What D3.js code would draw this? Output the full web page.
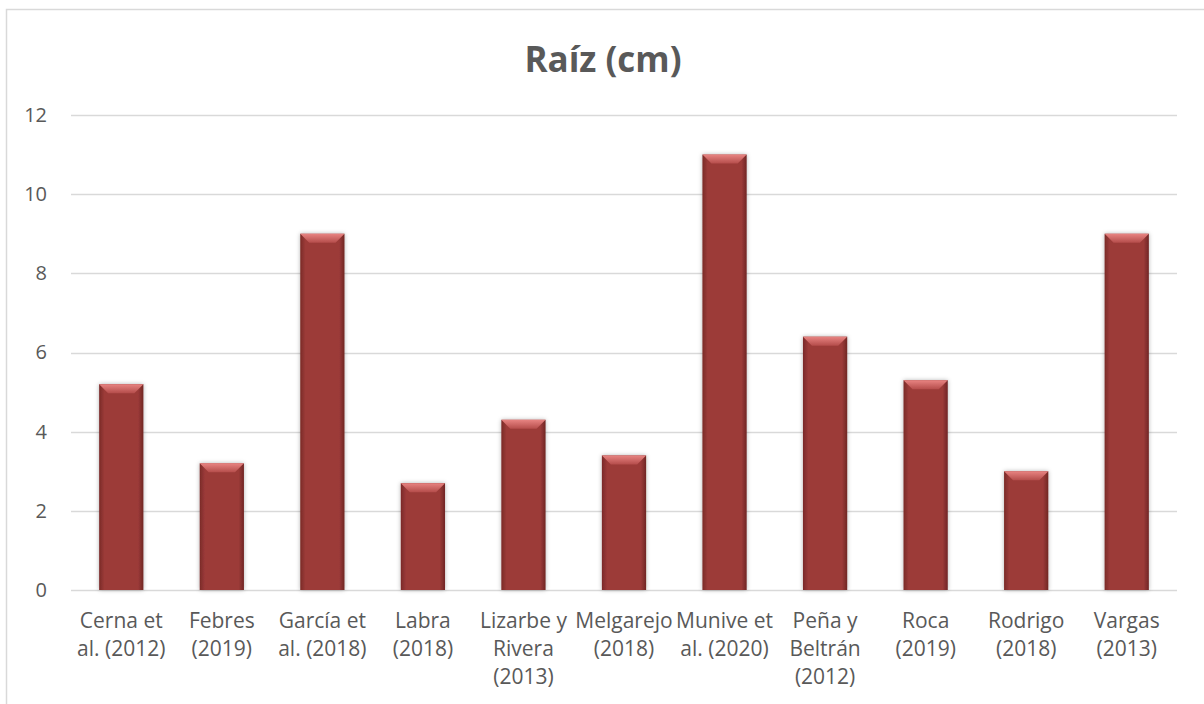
<!DOCTYPE html>
<html lang="es">
  <head>
    <meta charset="utf-8">
    <title>Raíz (cm)</title>
    <script src="https://d3js.org/d3.v7.min.js"></script>
    <style>
      body { margin: 0; background: #fff; }
      .grafico text { font-family: "Open Sans", "Liberation Sans", sans-serif; fill: #595959; }
      .eje path, .eje line { display: none; }
    </style>
  </head>
  <body>
    <div id="chart" class="grafico"></div>
    <script>
      "use strict"
      // datos
      var autores = [
        ["Cerna et", "al. (2012)"],
        ["Febres", "(2019)"],
        ["García et", "al. (2018)"],
        ["Labra", "(2018)"],
        ["Lizarbe y", "Rivera", "(2013)"],
        ["Melgarejo", "(2018)"],
        ["Munive et", "al. (2020)"],
        ["Peña y", "Beltrán", "(2012)"],
        ["Roca", "(2019)"],
        ["Rodrigo", "(2018)"],
        ["Vargas", "(2013)"]
      ]
      var raiz = [5.2, 3.2, 9.0, 2.7, 4.3, 3.4, 11.0, 6.4, 5.3, 3.0, 9.0]
      var ticksY = [0, 2, 4, 6, 8, 10, 12]

      var W = 1204, H = 704
      var margin = {top: 115, right: 27, bottom: 114, left: 71}
      var ancho = W - margin.left - margin.right
      var alto = H - margin.top - margin.bottom

      var svg = d3.select('#chart').append('svg')
        .attr('width', W).attr('height', H)

      // borde del area del grafico
      svg.append('rect')
        .attr('x', 6.5).attr('y', 9.5)
        .attr('width', W + 20).attr('height', H + 20)
        .attr('fill', 'none').attr('stroke', '#d9d9d9').attr('stroke-width', 1.5)

      svg.append('text')
        .attr('x', 603).attr('y', 72)
        .attr('text-anchor', 'middle')
        .style('font-size', '35px').style('font-weight', 'bold')
        .text('Raíz (cm)')

      var defs = svg.append('defs')
      var grad = defs.append('linearGradient').attr('id', 'cuerpo')
        .attr('x1', 0).attr('x2', 1).attr('y1', 0).attr('y2', 0)
      grad.append('stop').attr('offset', 0).attr('stop-color', '#7a2a28')
      grad.append('stop').attr('offset', 0.12).attr('stop-color', '#9c3b39')
      grad.append('stop').attr('offset', 0.88).attr('stop-color', '#9c3b39')
      grad.append('stop').attr('offset', 1).attr('stop-color', '#702624')
      var tope = defs.append('linearGradient').attr('id', 'tope')
        .attr('x1', 0).attr('x2', 0).attr('y1', 0).attr('y2', 1)
      tope.append('stop').attr('offset', 0).attr('stop-color', '#e88482')
      tope.append('stop').attr('offset', 1).attr('stop-color', '#b54d4b')
      var sombra = defs.append('filter').attr('id', 'sombra')
        .attr('x', '-20%').attr('y', '-5%').attr('width', '140%').attr('height', '110%')
      sombra.append('feDropShadow').attr('dx', 0).attr('dy', 0)
        .attr('stdDeviation', 2).attr('flood-color', '#000').attr('flood-opacity', 0.3)

      var g = svg.append('g')
        .attr('transform', 'translate(' + margin.left + ',' + margin.top + ')')

      var x = d3.scaleBand()
        .domain(d3.range(autores.length))
        .range([0, ancho])
        .paddingInner(0.56).paddingOuter(0.28)
      var y = d3.scaleLinear().domain([0, 12]).range([alto, 0])

      // lineas de cuadricula
      g.selectAll('.grid').data(ticksY).enter().append('line')
        .attr('x1', 0).attr('x2', ancho)
        .attr('y1', d => Math.round(y(d)) + 0.5).attr('y2', d => Math.round(y(d)) + 0.5)
        .attr('stroke', '#d9d9d9').attr('stroke-width', 1.5)

      // eje y
      var ejeY = g.append('g').attr('class', 'eje')
        .attr('transform', 'translate(-12,0)')
        .call(d3.axisLeft(y).tickValues(ticksY).tickSize(0).tickPadding(12))
      ejeY.selectAll('text').style('font-size', '20px')
        .attr('font-family', null)
      ejeY.attr('font-family', null)

      // barras
      var barras = g.selectAll('.barra').data(raiz).enter().append('g')
        .attr('class', 'barra')
      barras.append('rect')
        .attr('x', (d, i) => x(i))
        .attr('y', d => y(d))
        .attr('width', x.bandwidth())
        .attr('height', d => alto - y(d))
        .attr('fill', 'url(#cuerpo)')
        .attr('filter', 'url(#sombra)')
      barras.append('path')
        .attr('d', (d, i) => {
          var x0 = x(i), x1 = x(i) + x.bandwidth(), y0 = y(d), b = 9
          return 'M' + x0 + ',' + y0 + 'L' + x1 + ',' + y0 +
            'L' + (x1 - b) + ',' + (y0 + b) + 'L' + (x0 + b) + ',' + (y0 + b) + 'Z'
        })
        .attr('fill', 'url(#tope)')

      // etiquetas del eje x
      var etiquetas = g.selectAll('.etq').data(autores).enter().append('text')
        .attr('class', 'etq')
        .attr('text-anchor', 'middle')
        .attr('transform', (d, i) => 'translate(' + (x(i) + x.bandwidth() / 2) + ',' + (alto + 38) + ')')
        .style('font-size', '21px')
      etiquetas.selectAll('tspan').data(d => d).enter().append('tspan')
        .attr('x', 0)
        .attr('y', (d, k) => k * 28)
        .text(d => d)
    </script>
  </body>
</html>
